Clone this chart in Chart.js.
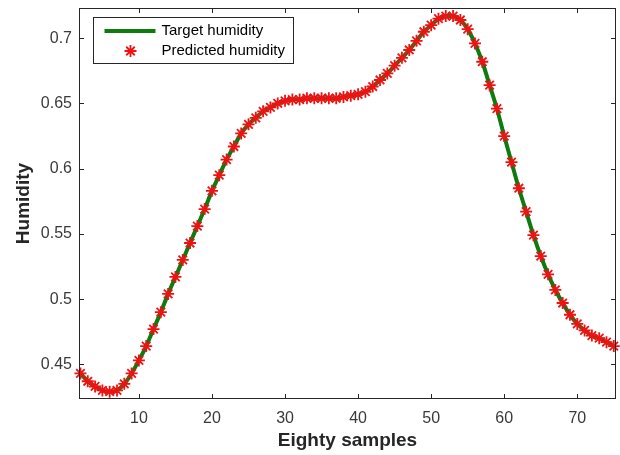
<!DOCTYPE html>
<html>
<head>
<meta charset="utf-8">
<script src="https://cdn.jsdelivr.net/npm/chart.js@4/dist/chart.umd.min.js"></script>
<style>
  html, body { margin: 0; padding: 0; background: #ffffff; }
  #wrap { width: 620px; height: 455px; position: relative; }
</style>
</head>
<body>
<div id="wrap"><canvas id="c" width="620" height="455"></canvas></div>
<script>
// ---- data ----
const samples = [2,3,4,5,6,7,8,9,10,11,12,13,14,15,16,17,18,19,20,21,22,23,24,25,26,27,28,29,30,31,32,33,34,35,36,37,38,39,40,41,42,43,44,45,46,47,48,49,50,51,52,53,54,55,56,57,58,59,60,61,62,63,64,65,66,67,68,69,70,71,72,73,74,75];
const targetHumidity = [0.443,0.437,0.433,0.430,0.429,0.430,0.435,0.443,0.453,0.464,0.477,0.490,0.504,0.517,0.530,0.543,0.556,0.569,0.583,0.595,0.607,0.617,0.627,0.634,0.639,0.644,0.647,0.650,0.652,0.653,0.653,0.654,0.654,0.654,0.654,0.654,0.655,0.656,0.657,0.659,0.663,0.668,0.673,0.679,0.685,0.691,0.698,0.705,0.710,0.715,0.717,0.717,0.714,0.707,0.696,0.682,0.664,0.646,0.625,0.605,0.585,0.567,0.549,0.533,0.519,0.507,0.497,0.488,0.481,0.476,0.472,0.470,0.467,0.464];
const predictedHumidity = [0.443,0.437,0.433,0.430,0.429,0.430,0.435,0.443,0.453,0.464,0.477,0.490,0.504,0.517,0.530,0.543,0.556,0.569,0.583,0.595,0.607,0.617,0.627,0.634,0.639,0.644,0.647,0.650,0.652,0.653,0.653,0.654,0.654,0.654,0.654,0.654,0.655,0.656,0.657,0.659,0.663,0.668,0.673,0.679,0.685,0.691,0.698,0.705,0.710,0.715,0.717,0.717,0.714,0.707,0.696,0.682,0.664,0.646,0.625,0.605,0.585,0.567,0.549,0.533,0.519,0.507,0.497,0.488,0.481,0.476,0.472,0.470,0.467,0.464];
const xTicks = [10,20,30,40,50,60,70];
const yTicks = [0.45,0.5,0.55,0.6,0.65,0.7];
const seriesNames = ['Target humidity','Predicted humidity'];
const xTitle = 'Eighty samples';
const yTitle = 'Humidity';

const GREEN = '#0f7a0f';
const RED = '#ee1212';
const AXIS = '#262626';
const FONT = '"Liberation Sans", Arial, Helvetica, sans-serif';

function toPoints(xs, ys) { return xs.map((x, i) => ({ x: x, y: ys[i] })); }

const framePlugin = {
  id: 'matlabFrame',
  afterDraw(chart) {
    const { ctx, chartArea: a, scales } = chart;
    const xs = scales.x, ys = scales.y;
    ctx.save();
    ctx.strokeStyle = AXIS;
    ctx.lineWidth = 1;
    ctx.strokeRect(Math.round(a.left) + 0.5, Math.round(a.top) + 0.5,
                   Math.round(a.right - a.left) - 1, Math.round(a.bottom - a.top) - 1);
    const tl = 5;
    ctx.beginPath();
    xTicks.forEach(v => {
      const px = Math.round(xs.getPixelForValue(v)) + 0.5;
      ctx.moveTo(px, a.bottom); ctx.lineTo(px, a.bottom - tl);
      ctx.moveTo(px, a.top); ctx.lineTo(px, a.top + tl);
    });
    yTicks.forEach(v => {
      const py = Math.round(ys.getPixelForValue(v)) + 0.5;
      ctx.moveTo(a.left, py); ctx.lineTo(a.left + tl, py);
      ctx.moveTo(a.right, py); ctx.lineTo(a.right - tl, py);
    });
    ctx.stroke();

    // legend box
    const lx = Math.round(a.left) + 14.5, ly = Math.round(a.top) + 9.5;
    const lw = 200, lh = 46;
    ctx.fillStyle = '#ffffff';
    ctx.fillRect(lx, ly, lw, lh);
    ctx.strokeStyle = AXIS;
    ctx.strokeRect(lx, ly, lw, lh);
    const ds = chart.data.datasets;
    ctx.strokeStyle = ds[0].borderColor;
    ctx.lineWidth = ds[0].borderWidth;
    ctx.beginPath();
    ctx.moveTo(lx + 11, ly + 13.5); ctx.lineTo(lx + 62, ly + 13.5);
    ctx.stroke();
    const sx = lx + 37, sy = ly + 33.5;
    if (Chart.helpers && Chart.helpers.drawPoint) {
      ctx.strokeStyle = ds[1].borderColor;
      ctx.fillStyle = ds[1].backgroundColor;
      ctx.lineWidth = ds[1].pointBorderWidth;
      Chart.helpers.drawPoint(ctx, { pointStyle: 'star', radius: ds[1].pointRadius, rotation: 0, borderWidth: ds[1].pointBorderWidth }, sx, sy);
    }
    ctx.fillStyle = '#000000';
    ctx.font = '15px ' + FONT;
    ctx.textBaseline = 'middle';
    ctx.textAlign = 'left';
    ctx.fillText(ds[0].label, lx + 68, ly + 13.5);
    ctx.fillText(ds[1].label, lx + 68, ly + 33.5);
    ctx.restore();
  }
};

new Chart(document.getElementById('c'), {
  type: 'line',
  data: {
    datasets: [
      {
        label: seriesNames[0],
        data: toPoints(samples, targetHumidity),
        borderColor: GREEN,
        backgroundColor: GREEN,
        borderWidth: 4,
        pointRadius: 0,
        cubicInterpolationMode: 'monotone',
        fill: false,
        order: 2
      },
      {
        label: seriesNames[1],
        data: toPoints(samples, predictedHumidity),
        showLine: false,
        pointStyle: 'star',
        pointRadius: 6,
        pointBorderWidth: 1.8,
        borderColor: RED,
        backgroundColor: RED,
        clip: false,
        order: 1
      }
    ]
  },
  options: {
    responsive: false,
    animation: false,
    devicePixelRatio: 1,
    layout: { autoPadding: false, padding: { left: 0, top: 8, right: 4, bottom: 0 } },
    plugins: {
      legend: { display: false },
      tooltip: { enabled: false }
    },
    scales: {
      x: {
        type: 'linear',
        min: 1.8,
        max: 75.3,
        grid: { display: false, drawTicks: false },
        border: { display: false },
        afterBuildTicks: s => { s.ticks = xTicks.map(v => ({ value: v })); },
        afterFit: s => { s.height = 56; s.paddingLeft = 0; s.paddingRight = 0; },
        ticks: {
          padding: 10,
          color: '#3a3a3a',
          font: { family: FONT, size: 16 },
          maxRotation: 0,
          callback: v => String(v)
        },
        title: {
          display: true,
          text: xTitle,
          color: '#262626',
          font: { family: FONT, size: 19, weight: 'bold' },
          padding: { top: 0, bottom: 3 }
        }
      },
      y: {
        type: 'linear',
        min: 0.4234,
        max: 0.7232,
        grid: { display: false, drawTicks: false },
        border: { display: false },
        afterBuildTicks: s => { s.ticks = yTicks.map(v => ({ value: v })); },
        afterFit: s => { s.width = 79; s.paddingTop = 0; s.paddingBottom = 0; },
        ticks: {
          padding: 7,
          color: '#3a3a3a',
          font: { family: FONT, size: 16 },
          callback: v => String(Math.round(v * 100) / 100)
        },
        title: {
          display: true,
          text: yTitle,
          color: '#262626',
          font: { family: FONT, size: 19, weight: 'bold' },
          padding: { top: 12, bottom: 0 }
        }
      }
    }
  },
  plugins: [framePlugin]
});
</script>
</body>
</html>
